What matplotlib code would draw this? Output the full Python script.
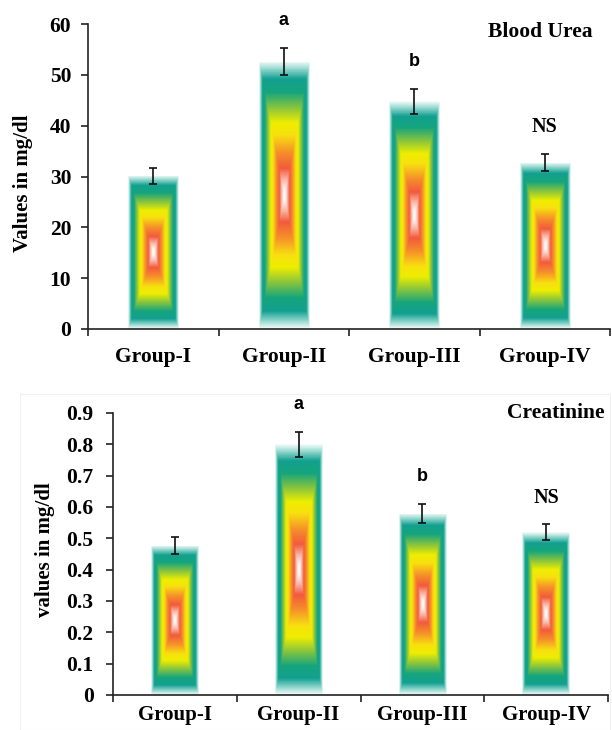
import numpy as np
import matplotlib
matplotlib.use('Agg')
import matplotlib.pyplot as plt
from matplotlib.colors import LinearSegmentedColormap
from matplotlib.patches import Rectangle

# ---------------- data ----------------
groups = ['Group-I', 'Group-II', 'Group-III', 'Group-IV']
urea_mean = [30.1, 52.6, 44.8, 32.75]
urea_err = [1.5, 2.65, 2.45, 1.75]
creat_mean = [0.477, 0.80, 0.578, 0.52]
creat_err = [0.026, 0.04, 0.03, 0.026]
sig_labels = ['', 'a', 'b', 'NS']
urea_ticks = [0, 10, 20, 30, 40, 50, 60]
urea_ticklabels = ['0', '10', '20', '30', '40', '50', '60']
creat_ticks = [0, 0.1, 0.2, 0.3, 0.4, 0.5, 0.6, 0.7, 0.8, 0.9]
creat_ticklabels = ['0', '0.1', '0.2', '0.3', '0.4', '0.5', '0.6', '0.7', '0.8', '0.9']

plt.rcParams['font.family'] = ['Liberation Serif', 'DejaVu Serif']
plt.rcParams['font.weight'] = 'bold'

cmap = LinearSegmentedColormap.from_list('barfill', [
    (0.00, '#ffffff'),
    (0.04, '#fff4f0'),
    (0.12, '#f8b0a0'),
    (0.20, '#f25a3c'),
    (0.32, '#f6902a'),
    (0.45, '#f8e010'),
    (0.54, '#eeee00'),
    (0.65, '#8cc63c'),
    (0.77, '#16a57c'),
    (0.87, '#12a090'),
    (0.94, '#8ad4ca'),
    (1.00, '#f2fbf9'),
])

fig = plt.figure(figsize=(6.12, 7.30), dpi=100)


def grad_bars(ax, xs, heights, width):
    bars = ax.bar(xs, heights, width, color='none', edgecolor='none', zorder=2)
    n, m = 300, 120
    v = np.linspace(-1, 1, n)[:, None]
    u = np.linspace(-1, 1, m)[None, :]
    d = np.maximum(np.abs(u), np.abs(v))
    for b in bars:
        x0 = b.get_x()
        w = b.get_width()
        h = b.get_height()
        im = ax.imshow(d, cmap=cmap, vmin=0, vmax=1,
                       extent=[x0, x0 + w, 0, h], aspect='auto',
                       interpolation='bilinear', zorder=2)
        im.set_clip_path(b)
    return bars


def panel(rect, means, errs, ticks, ticklabels, ymax, title, title_xy,
          ylabel, ylabel_xy, ypad, xpad, xsize):
    ax = fig.add_axes(rect)
    xs = np.arange(1, len(groups) + 1)
    grad_bars(ax, xs, means, 0.385)
    ax.errorbar(xs, means, yerr=errs, fmt='none', ecolor='#111111',
                elinewidth=1.2, capsize=3, capthick=1.2, zorder=3)
    for x, m, e, s in zip(xs, means, errs, sig_labels):
        if not s:
            continue
        if s == 'NS':
            ax.annotate(s, (x, m + e), xytext=(0, 19), textcoords='offset points',
                        ha='center', va='center', fontsize=14.5, fontweight='bold',
                        family=['Liberation Serif', 'DejaVu Serif'])
        else:
            ax.annotate(s, (x, m + e), xytext=(0, 20), textcoords='offset points',
                        ha='center', va='center', fontsize=13, fontweight='bold',
                        family=['Liberation Sans', 'DejaVu Sans'])
    ax.set_xlim(0.5, len(groups) + 0.5)
    ax.set_ylim(0, ymax)
    ax.set_yticks(ticks)
    ax.set_yticklabels(ticklabels)
    ax.set_xticks(np.arange(0.5, len(groups) + 1, 1.0))
    ax.set_xticklabels([])
    ax.set_xticks(xs, minor=True)
    ax.set_xticklabels(groups, minor=True)
    ax.tick_params(axis='x', which='major', direction='out', length=5, width=1.2,
                   color='#222222')
    ax.tick_params(axis='x', which='minor', length=0, pad=xpad, labelsize=xsize)
    ax.tick_params(axis='y', direction='out', length=5, width=1.2, color='#222222',
                   pad=ypad, labelsize=15.5)
    for sp in ['top', 'right']:
        ax.spines[sp].set_visible(False)
    for sp in ['left', 'bottom']:
        ax.spines[sp].set_linewidth(1.2)
        ax.spines[sp].set_color('#222222')
    ax.text(title_xy[0], title_xy[1], title, transform=ax.transAxes,
            ha='center', va='center', fontsize=15.5, fontweight='bold')
    fig.text(ylabel_xy[0], ylabel_xy[1], ylabel, rotation=90, ha='center',
             va='center', fontsize=15, fontweight='bold')
    return ax


# faint frame lines as in the scanned figure
fig.add_artist(Rectangle((20 / 612, 0.0), 590 / 612, 1 - 394 / 730,
                         transform=fig.transFigure, fill=False,
                         edgecolor='#f0f0f0', linewidth=0.8))

panel([88 / 612, 1 - 329 / 730, 522 / 612, 305 / 730],
      urea_mean, urea_err, urea_ticks, urea_ticklabels, 60,
      'Blood Urea', (0.866, 0.974),
      'Values in mg/dl', (23 / 612, 1 - 183 / 730), 7, 13, 15.5)

panel([113 / 612, 1 - 695 / 730, 495 / 612, 282 / 730],
      creat_mean, creat_err, creat_ticks, creat_ticklabels, 0.9,
      'Creatinine', (0.895, 1.0),
      'values in mg/dl', (45 / 612, 1 - 550 / 730), 9, 7, 15)

fig.savefig('out.png', dpi=100)
